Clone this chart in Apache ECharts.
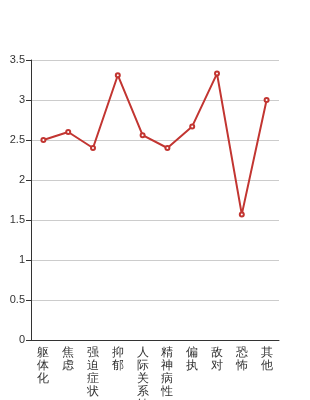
<!DOCTYPE html>
<html>
<head>
<meta charset="utf-8">
<script src="https://cdn.jsdelivr.net/npm/echarts@6/dist/echarts.min.js"></script>
<style>
  html, body { margin: 0; padding: 0; background: #fff; }
  #chart { width: 310px; height: 400px; }
</style>
</head>
<body>
<div id="chart"></div>
<script>
const categories = ['躯体化', '焦虑', '强迫症状', '抑郁', '人际关系敏感', '精神病性', '偏执', '敌对', '恐怖', '其他']
const scores = [2.5, 2.6, 2.4, 3.31, 2.56, 2.4, 2.67, 3.33, 1.57, 3.0]

const chart = echarts.init(document.getElementById('chart'))

chart.setOption({
  animation: false,
  grid: { left: 31, right: 31, top: 60, bottom: 60, containLabel: false, outerBoundsMode: 'none' },
  xAxis: {
    type: 'category',
    data: categories,
    boundaryGap: true,
    axisLine: { lineStyle: { color: '#333' } },
    axisTick: { alignWithLabel: false, length: 5 },
    axisLabel: {
      interval: 0,
      color: '#333',
      fontSize: 12,
      lineHeight: 13,
      margin: 6,
      formatter: v => v.split('').join('\n')
    }
  },
  yAxis: {
    type: 'value',
    min: 0,
    max: 3.5,
    interval: 0.5,
    axisLine: { show: true, lineStyle: { color: '#333' } },
    axisTick: { show: true, length: 5 },
    axisLabel: { color: '#333', fontSize: 11, margin: 6 },
    splitLine: { lineStyle: { color: '#ccc' } }
  },
  series: [{
    type: 'line',
    data: scores,
    symbol: 'emptyCircle',
    symbolSize: 4,
    lineStyle: { width: 2, color: '#c23531' },
    itemStyle: { color: '#c23531' }
  }]
})
</script>
</body>
</html>
